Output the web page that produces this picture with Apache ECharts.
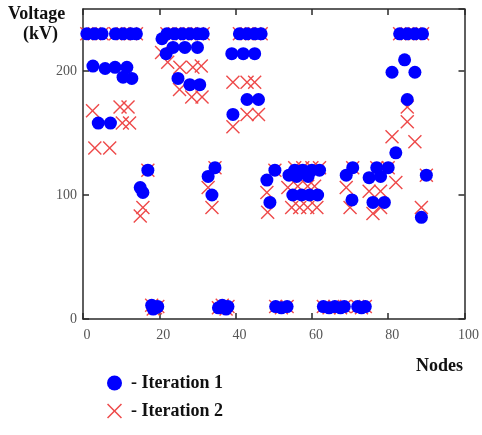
<!DOCTYPE html>
<html>
<head>
<meta charset="utf-8">
<script src="https://cdn.jsdelivr.net/npm/echarts@6/dist/echarts.min.js"></script>
<style>
html,body{margin:0;padding:0;background:#fff;}
#chart{width:482px;height:435px;}
</style>
</head>
<body>
<div id="chart"></div>
<script>
// Axis ticks
const xTicks = [0, 20, 40, 60, 80, 100];
const yTicks = [0, 100, 200];

// Series names
const seriesNames = ['Iteration 1', 'Iteration 2'];

// Iteration 1 (blue dots): [node, voltage kV]
const iteration1 = [
  [1,230],[3,230],[5,230],[8.5,230],[10.5,230],[12.5,230],[14,230],
  [2.6,204],[5.8,202],[8.4,203],[11.5,203],[10.5,195],[12.8,194],
  [4,158],[7.2,158],
  [17,120],[15,106],[15.7,102],
  [18,11],[19,9],[19.6,10],[18.4,8],
  [22,230],[24,230],[26,230],[28,230],[30,230],[31.5,230],[20.7,226],
  [21.8,214],[23.6,219],[26.7,219],[30,219],
  [24.9,194],[28,189],[30.6,189],
  [34.6,122],[32.8,115],[33.8,100],
  [35.5,9],[36.5,11],[37.5,8],[38,10],
  [41,230],[43,230],[45,230],[46.7,230],
  [39,214],[42,214],[45,214],
  [43,177],[46,177],[39.3,165],
  [48.2,112],[50.3,120],[49,94],
  [50.5,10],[52,9],[53.5,10],
  [55.5,120],[57.6,120],[60,120],[62,120],[54,116],[56,115],[59,115],
  [55,100],[57.3,100],[59.4,100],[61.5,100],
  [63,10],[64.5,9],[66,10],[67.5,9],[68.5,10],
  [72,10],[73,9],[74,10],
  [70.7,122],[69,116],[77,122],[80,122],[75,114],[78,115],
  [70.5,96],[76,94],[79,94],
  [83,230],[85,230],[87,230],[89,230],
  [81,199],[84.3,209],[87,199],[85,177],[82,134],[90,116],[88.7,82]
];

// Iteration 2 (red crosses): [node, voltage kV]
const iteration2 = [
  [1,230],[3,230],[5,230],[8.5,230],[10.5,230],[12.5,230],[14,230],
  [2.5,168],[9.7,171],[11.8,171],[10.3,158],[12.2,158],[3.1,138],[7,138],
  [17,120],[15.7,90],[15,83],
  [18,11],[19,9],[19.6,10],[18.4,8],
  [22,230],[24,230],[26,230],[28,230],[30,230],[31.5,230],
  [20.6,215],[22.2,207],[25.4,203],[28.8,203],[31,204],
  [25.3,185],[28.5,179],[31.2,179],
  [34.6,122],[32.8,106],[33.8,90],
  [35.5,9],[36.5,11],[37.5,8],[38,10],
  [41,230],[43,230],[45,230],[46.7,230],
  [39.3,191],[43,191],[45,191],[43,165],[46,165],[39.3,155],
  [50.3,120],[48.2,102],[48.4,86],
  [50.5,10],[52,9],[53.5,10],
  [55.5,122],[57.6,122],[60,122],[62,122],
  [53.7,106],[56.3,107],[58.9,107],[60.7,107],
  [54.7,90],[56.8,90],[58.9,90],[61.3,90],
  [63,10],[64.5,9],[66,10],[67.5,9],[68.5,10],
  [72,10],[73,9],[74,10],
  [70.7,122],[77,122],[80,122],[69,106],[75,103],[78,103],[82,110],
  [70,90],[76,85],[78,90],
  [83,230],[85,230],[87,230],[89,230],
  [85,171],[85,159],[81,147],[87,143],[90,116],[88.7,90]
];

const xPath = 'path://M1,0L7,6L13,0L14,1L8,7L14,13L13,14L7,8L1,14L0,13L6,7L0,1Z';
const serif = "'Liberation Serif','DejaVu Serif',serif";
const axisColor = '#2a2a2a';

const chart = echarts.init(document.getElementById('chart'), null, {renderer: 'canvas'});

function xAxisDef(pos, showLabel) {
  return {
    type: 'value', position: pos, min: 0, max: 100, interval: 20,
    axisLine: {show: true, onZero: false, lineStyle: {color: axisColor, width: 1.5}},
    axisTick: {show: true, inside: true, length: 6, lineStyle: {color: axisColor, width: 1.5}},
    axisLabel: {show: showLabel, color: '#555', fontFamily: serif, fontSize: 14, margin: 9,
      padding: [0, 0, 0, 8],
      formatter: v => xTicks.includes(v) ? String(v) : ''},
    splitLine: {show: false}
  };
}
function yAxisDef(pos, showLabel) {
  return {
    type: 'value', position: pos, min: 0, max: 250, interval: 100,
    axisLine: {show: true, onZero: false, lineStyle: {color: axisColor, width: 1.5}},
    axisTick: {show: true, inside: true, length: 6, lineStyle: {color: axisColor, width: 1.5}},
    axisLabel: {show: showLabel, color: '#555', fontFamily: serif, fontSize: 14, margin: 6,
      showMaxLabel: false,
      formatter: v => yTicks.includes(v) ? String(v) : ''},
    splitLine: {show: false}
  };
}

chart.setOption({
  animation: false,
  backgroundColor: '#fff',
  grid: {left: 83, right: 17, top: 9, bottom: 116},
  xAxis: [xAxisDef('bottom', true), xAxisDef('top', false)],
  yAxis: [yAxisDef('left', true), yAxisDef('right', false)],
  legend: {
    orient: 'vertical', left: 107, top: 374, height: 70, padding: 0,
    itemWidth: 15, itemHeight: 15, itemGap: 10,
    data: [{name: seriesNames[0], icon: 'circle'}, {name: seriesNames[1], icon: xPath}],
    formatter: '- {name}',
    textStyle: {fontFamily: serif, fontWeight: 'bold', fontSize: 18, color: '#111', padding: [0, 0, 0, 4]}
  },
  graphic: [
    {type: 'text', left: 8, top: 5, style: {text: 'Voltage', font: "bold 18px 'Liberation Serif'", fill: '#111'}},
    {type: 'text', left: 23, top: 25, style: {text: '(kV)', font: "bold 18px 'Liberation Serif'", fill: '#111'}},
    {type: 'text', left: 416, top: 357, style: {text: 'Nodes', font: "bold 18px 'Liberation Serif'", fill: '#111'}}
  ],
  series: [
    {
      name: seriesNames[1], type: 'scatter', data: iteration2, clip: false,
      symbol: xPath, symbolSize: 14, z: 2,
      itemStyle: {color: '#ee4a4a', opacity: 1}
    },
    {
      name: seriesNames[0], type: 'scatter', data: iteration1, clip: false,
      symbol: 'circle', symbolSize: 13, z: 3,
      itemStyle: {color: '#0000ff', opacity: 1}
    }
  ]
});
</script>
</body>
</html>
